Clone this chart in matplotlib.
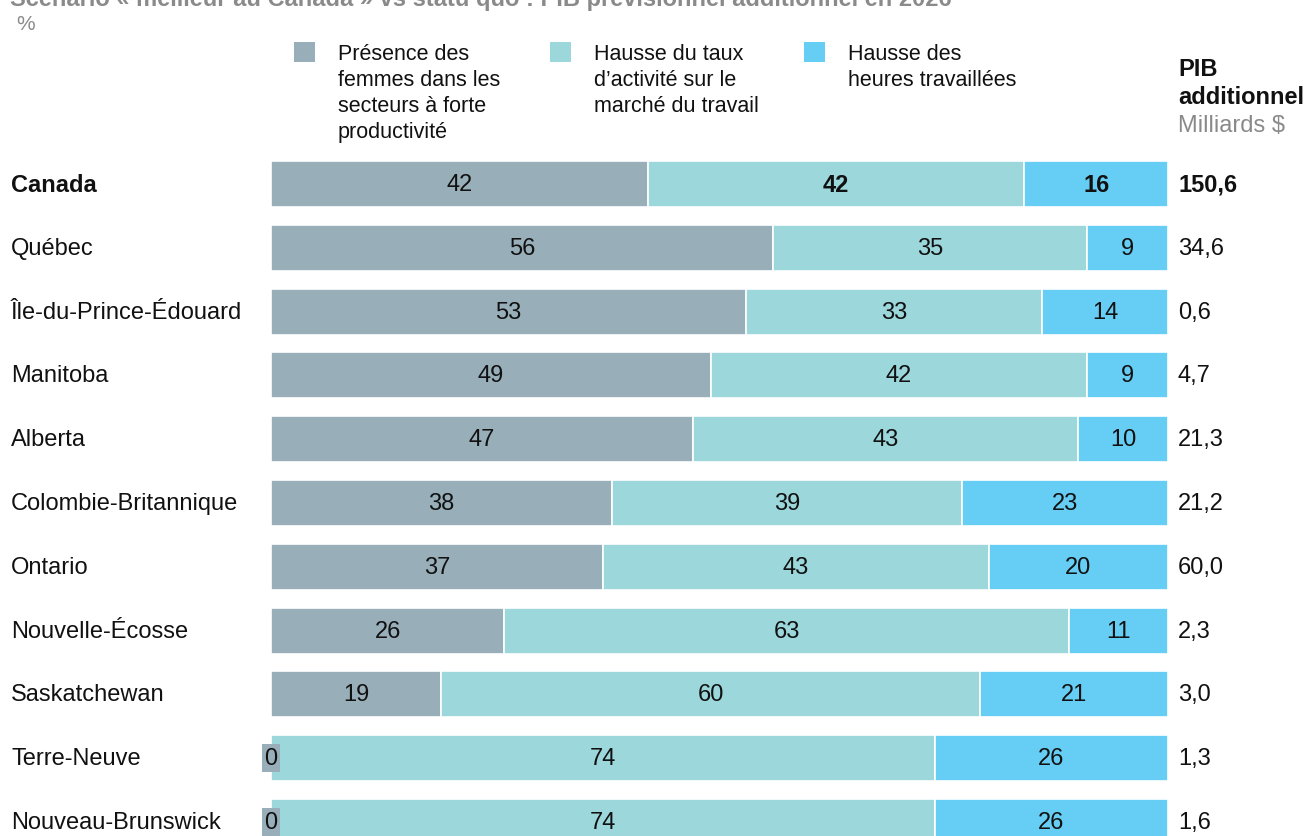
import matplotlib.pyplot as plt
from matplotlib.patches import Rectangle

plt.rcParams['font.family'] = ['Liberation Sans', 'DejaVu Sans']

regions = ["Canada", "Québec", "Île-du-Prince-Édouard", "Manitoba", "Alberta",
           "Colombie-Britannique", "Ontario", "Nouvelle-Écosse", "Saskatchewan",
           "Terre-Neuve", "Nouveau-Brunswick"]
productivite = [42, 56, 53, 49, 47, 38, 37, 26, 19, 0, 0]
activite = [42, 35, 33, 42, 43, 39, 43, 63, 60, 74, 74]
heures = [16, 9, 14, 9, 10, 23, 20, 11, 21, 26, 26]
pib = ["150,6", "34,6", "0,6", "4,7", "21,3", "21,2", "60,0", "2,3", "3,0", "1,3", "1,6"]

series_names = ["Présence des\nfemmes dans les\nsecteurs à forte\nproductivité",
                "Hausse du taux\nd’activité sur le\nmarché du travail",
                "Hausse des\nheures travaillées"]
colors = ["#98AFBA", "#9BD7DB", "#66CDF4"]

FS = 17
W, H = 1307, 837
fig = plt.figure(figsize=(W / 100, H / 100), dpi=100)

# axes spanning the bar area: x 271..1168 px, rows centred at 184 + 63.8*i px
row_step = 63.8
y0 = 185
n = len(regions)
top_px = y0 - row_step / 2
bottom_px = y0 + row_step * (n - 1) + row_step / 2
ax = fig.add_axes([271 / W, 1 - bottom_px / H, (1168 - 271) / W, (bottom_px - top_px) / H])
ax.set_xlim(0, 100)
ax.set_ylim(n - 0.5, -0.5)
ax.axis('off')

ys = list(range(n))
bh = 0.72
left = [0] * n
for k, (vals, col) in enumerate(zip([productivite, activite, heures], colors)):
    ax.barh(ys, vals, left=left, height=bh, color=col, edgecolor='white', linewidth=1.2)
    for i, v in enumerate(vals):
        cx = left[i] + v / 2
        weight = 'bold' if (i == 0 and k > 0) else 'normal'
        if v == 0:
            ax.text(left[i], i, "0", ha='center', va='center', fontsize=FS, color='#111111',
                    bbox=dict(boxstyle='square,pad=0.12', facecolor=col, edgecolor='none'))
        else:
            ax.text(cx, i, str(v), ha='center', va='center', fontsize=FS,
                    fontweight=weight, color='#111111')
    left = [l + v for l, v in zip(left, vals)]

for i, (r, p) in enumerate(zip(regions, pib)):
    weight = 'bold' if i == 0 else 'normal'
    yf = 1 - (y0 + row_step * i) / H
    fig.text(11 / W, yf, r, ha='left', va='center', fontsize=FS, fontweight=weight, color='#111111')
    fig.text(1178 / W, yf, p, ha='left', va='center', fontsize=FS, fontweight=weight, color='#111111')

# legend
leg_x = [294, 550, 804]
for x, name, col in zip(leg_x, series_names, colors):
    fig.patches.append(Rectangle((x / W, 1 - 63 / H), 21 / W, 20 / H,
                                 transform=fig.transFigure, facecolor=col, edgecolor='none'))
    fig.text((x + 44) / W, 1 - 44 / H, name, ha='left', va='top', fontsize=15.5,
             color='#111111', linespacing=1.32)

# right-hand header
fig.text(1178 / W, 1 - 69 / H, "PIB", ha='left', va='center', fontsize=FS, fontweight='bold', color='#111111')
fig.text(1178 / W, 1 - 98 / H, "additionnel", ha='left', va='center', fontsize=FS, fontweight='bold', color='#111111')
fig.text(1178 / W, 1 - 126 / H, "Milliards $", ha='left', va='center', fontsize=FS, color='#8a8a8a')

# title and unit
fig.text(10 / W, 1 - 6 / H, "Scénario « meilleur au Canada » vs statu quo : PIB prévisionnel additionnel en 2026",
         ha='left', va='baseline', fontsize=FS, fontweight='bold', color='#8a8a8a')
fig.text(16 / W, 1 - 25 / H, "%", ha='left', va='center', fontsize=15, color='#8a8a8a')

fig.savefig("out.png", dpi=100)
